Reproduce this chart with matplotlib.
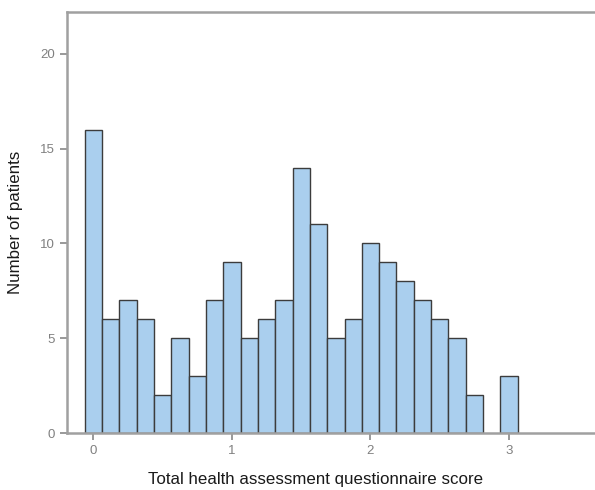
import numpy as np
import matplotlib
matplotlib.use('Agg')
import matplotlib.pyplot as plt

plt.rcParams['font.family'] = ['Liberation Sans', 'DejaVu Sans']

# HAQ score bins (width 0.125) and patient counts
scores = [0, 0.125, 0.25, 0.375, 0.5, 0.625, 0.75, 0.875, 1.0, 1.125, 1.25, 1.375,
          1.5, 1.625, 1.75, 1.875, 2.0, 2.125, 2.25, 2.375, 2.5, 2.625, 2.75, 3.0]
counts = [16, 6, 7, 6, 2, 5, 3, 7, 9, 5, 6, 7,
          14, 11, 5, 6, 10, 9, 8, 7, 6, 5, 2, 3]
xticks = [0, 1, 2, 3]
yticks = [0, 5, 10, 15, 20]

fig = plt.figure(figsize=(5.95, 4.9), dpi=100)
ax = fig.add_axes([0.1126, 0.1163, 0.8874, 0.8592])

ax.bar(scores, counts, width=0.125, color='#aacfee', edgecolor='#3c3c3c',
       linewidth=1.0, align='center', zorder=2)

ax.set_xlim(-0.19, 3.62)
ax.set_ylim(0, 22.2)
ax.set_xticks(xticks)
ax.set_yticks(yticks)

spine_col = '#a0a0a0'
for s in ax.spines.values():
    s.set_color(spine_col)
    s.set_linewidth(1.8)
ax.spines['right'].set_visible(False)
ax.tick_params(axis='both', colors='#888888', labelcolor='#808080',
               labelsize=9.5, length=5, width=1.2, direction='out')

ax.set_xlabel('Total health assessment questionnaire score', fontsize=12.2,
              color='#1a1a1a')
ax.xaxis.set_label_coords(0.47, -0.092)
ax.set_ylabel('Number of patients', fontsize=12.2, color='#1a1a1a')
ax.yaxis.set_label_coords(-0.083, 0.5)

fig.savefig('out.png', dpi=100)
